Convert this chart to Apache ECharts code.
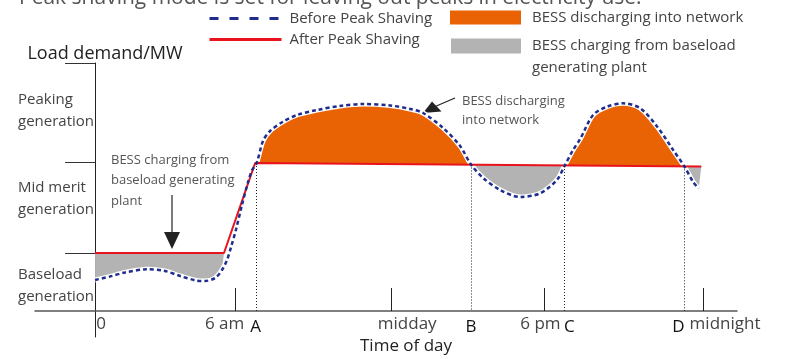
<!DOCTYPE html>
<html>
<head>
<meta charset="utf-8">
<script src="https://cdn.jsdelivr.net/npm/echarts@6/dist/echarts.min.js"></script>
<style>
  html, body { margin: 0; padding: 0; background: #fff; }
  #chart { width: 786px; height: 359px; }
</style>
</head>
<body>
<div id="chart"></div>
<script>
// load before peak shaving (time in hours, load in relative MW units)
const beforeTime = [0, 0.59, 1.18, 2.05, 2.76, 3.36, 3.99, 4.34, 4.74, 5.01, 5.21, 5.37, 5.57, 5.8, 6.04, 6.2,
  6.38, 6.63, 6.91, 7.42, 7.97, 8.76, 9.67, 10.58, 11.65, 12.44, 12.95, 13.74, 14.41,
  14.84, 15.32, 15.99, 16.78, 17.57, 18.23,
  18.53, 18.87, 19.15, 19.66, 20.21, 20.84, 21.52, 22.19, 22.82,
  23.26, 23.61, 23.83];
const beforeLoad = [3.1, 3.45, 3.85, 4.17, 4.0, 3.5, 3.05, 3.0, 3.3, 4.1, 5.1, 6.4, 8.2, 10.6, 12.9, 14.1,
  14.8, 17.0, 18.0, 18.93, 19.6, 20.1, 20.5, 20.7, 20.55, 20.2, 19.8, 18.3, 16.5,
  14.65, 13.3, 12.1, 11.4, 11.77, 13.1,
  14.5, 16.1, 17.2, 19.6, 20.43, 20.77, 20.27, 18.43, 16.1,
  14.47, 12.9, 12.25];

// load after peak shaving
const afterTime = [0, 5.09, 6.32, 23.93];
const afterLoad = [5.8, 5.8, 14.8, 14.45];

// crossing points A..D
const eventLabels = ['A', 'B', 'C', 'D'];
const eventTimes = [6.38, 14.84, 18.53, 23.26];

// time of day ticks
const timeLabels = ['0', '6 am', 'midday', '6 pm', 'midnight'];
const timeTicks = [0, 5.55, 11.69, 17.74, 24.0];

// generation levels on the load axis
const levelLabels = ['Baseload\ngeneration', 'Mid merit\ngeneration', 'Peaking\ngeneration'];
const levelLabelAt = [2.5, 11.2, 20.0];
const levelBounds = [5.8, 14.9, 24.8];

// shaded spans
const dischargeSpans = [[eventTimes[0], eventTimes[1]], [eventTimes[2], eventTimes[3]]];
const chargeSpans = [[0, afterTime[1]], [eventTimes[1], eventTimes[2]], [eventTimes[3], afterTime[3]]];

// label nudges in px (layout only)
const labelShift = { '0': 6, '6 am': -11, 'midday': 16, '6 pm': -4, 'midnight': 22, 'A': -1, 'B': 0, 'C': 5, 'D': -6 };

const FONT = 'Open Sans';
const NAVY = '#1f2d8e';
const RED = '#e8131c';
const ORANGE = '#e96305';
const GREY = '#b3b3b3';

const xLabelValues = timeTicks.concat(eventTimes);
const xLabelTexts = timeLabels.concat(eventLabels);
const xRich = {};
xLabelTexts.forEach((txt, i) => {
  const s = labelShift[txt] || 0;
  const isEvent = i >= timeLabels.length;
  xRich['k' + i] = {
    fontFamily: FONT,
    fontSize: 17,
    color: isEvent ? '#111' : '#444',
    padding: [isEvent ? 3 : 0, s < 0 ? -2 * s : 0, 0, s > 0 ? 2 * s : 0]
  };
});

function spanPolygon(lo, hi, api) {
  const pts = [];
  for (let i = 0; i < beforeTime.length; i++) {
    if (beforeTime[i] >= lo - 1e-9 && beforeTime[i] <= hi + 1e-9) pts.push(api.coord([beforeTime[i], beforeLoad[i]]));
  }
  for (let i = afterTime.length - 1; i >= 0; i--) {
    if (afterTime[i] >= lo - 1e-9 && afterTime[i] <= hi + 1e-9) pts.push(api.coord([afterTime[i], afterLoad[i]]));
  }
  return pts;
}

function fillSeries(name, spans, color) {
  return {
    name: name,
    type: 'custom',
    z: 1,
    silent: true,
    itemStyle: { color: color },
    data: spans,
    renderItem: function (params, api) {
      return {
        type: 'polygon',
        shape: { points: spanPolygon(api.value(0), api.value(1), api) },
        style: { fill: color }
      };
    }
  };
}

const chart = echarts.init(document.getElementById('chart'), null, { renderer: 'canvas' });

const legendText = { fontFamily: FONT, fontSize: 15, color: '#444' };

const option = {
  animation: false,
  textStyle: { fontFamily: FONT },
  grid: { left: 35, right: 49, top: 63, bottom: 22, outerBoundsMode: 'none', containLabel: false },
  legend: [
    {
      data: [
        { name: 'Before Peak Shaving', lineStyle: { type: [9, 11], width: 3 }, itemStyle: { opacity: 0 } },
        { name: 'After Peak Shaving', lineStyle: { width: 3 }, itemStyle: { opacity: 0 } }
      ],
      orient: 'vertical', left: 208, top: 11, padding: 0, itemWidth: 72, itemHeight: 14, itemGap: 6,
      selectedMode: false,
      textStyle: Object.assign({ padding: [0, 0, 0, 3] }, legendText)
    },
    {
      data: [{ name: 'BESS discharging into network', icon: 'rect' }],
      left: 450, top: 10, padding: 0, itemWidth: 71, itemHeight: 14,
      selectedMode: false,
      textStyle: Object.assign({ padding: [0, 0, 0, 6] }, legendText)
    },
    {
      data: [{ name: 'BESS charging from baseload generating plant', icon: 'path://M0 0L70 0L70 15L0 15Z M35 37L35.01 37L35 37.01Z' }],
      left: 451, top: 35, padding: 0, itemWidth: 70, itemHeight: 37,
      selectedMode: false,
      formatter: () => 'BESS charging from baseload\ngenerating plant',
      textStyle: Object.assign({ lineHeight: 22, padding: [0, 0, 0, 6] }, legendText)
    }
  ],
  xAxis: {
    type: 'value',
    min: -2.37,
    max: 25.34,
    axisLine: { onZero: true, lineStyle: { color: '#555', width: 1.5 } },
    axisTick: { show: true, inside: true, length: 23, customValues: timeTicks.slice(1), lineStyle: { color: '#222', width: 1 } },
    axisLabel: {
      margin: -21,
      customValues: xLabelValues,
      formatter: function (v) {
        const i = xLabelValues.indexOf(v);
        return i < 0 ? '' : '{k' + i + '|' + xLabelTexts[i] + '}';
      },
      rich: xRich
    },
    splitLine: { show: false }
  },
  yAxis: {
    type: 'value',
    min: -2.6,
    max: 24.8,
    name: 'Load demand/MW',
    nameLocation: 'end',
    nameGap: 0,
    nameTextStyle: { fontFamily: FONT, fontSize: 18, color: '#222', align: 'center', padding: [0, 0, 0, 20] },
    axisLine: { show: true, onZero: true, lineStyle: { color: '#222', width: 1 } },
    axisTick: { show: true, length: 30, customValues: levelBounds, lineStyle: { color: '#333', width: 1 } },
    axisLabel: {
      margin: 17,
      align: 'left',
      customValues: levelLabelAt,
      formatter: function (v) {
        const i = levelLabelAt.indexOf(v);
        return i < 0 ? '' : levelLabels[i];
      },
      fontFamily: FONT, fontSize: 15, color: '#444', lineHeight: 22
    },
    splitLine: { show: false }
  },
  series: [
    fillSeries('BESS discharging into network', dischargeSpans, ORANGE),
    fillSeries('BESS charging from baseload generating plant', chargeSpans, GREY),
    {
      name: '_halo',
      type: 'line',
      z: 2,
      silent: true,
      symbol: 'none',
      smooth: 0.3,
      lineStyle: { color: '#fff', width: 5 },
      data: beforeTime.map((t, i) => [t, beforeLoad[i]])
    },
    {
      name: 'After Peak Shaving',
      type: 'line',
      z: 3,
      symbol: 'none',
      lineStyle: { color: RED, width: 2 },
      itemStyle: { color: RED },
      data: afterTime.map((t, i) => [t, afterLoad[i]]),
      markLine: {
        silent: true,
        symbol: 'none',
        label: { show: false },
        lineStyle: { type: [1, 2], color: '#222', width: 1 },
        data: eventTimes.map((t) => {
          const v = beforeLoad[beforeTime.indexOf(t)];
          return [{ coord: [t, v] }, { coord: [t, 0] }];
        })
      }
    },
    {
      name: 'Before Peak Shaving',
      type: 'line',
      z: 4,
      symbol: 'none',
      smooth: 0.3,
      lineStyle: { color: NAVY, width: 2.5, type: [4, 3] },
      itemStyle: { color: NAVY },
      data: beforeTime.map((t, i) => [t, beforeLoad[i]])
    }
  ],
  graphic: [
    {
      type: 'text', left: 19, top: -12, silent: true,
      style: { text: 'Peak shaving mode is set for leaving out peaks in electricity use.', font: '21px "Open Sans"', fill: '#555' }
    },
    {
      type: 'text', left: 360, top: 338, silent: true,
      style: { text: 'Time of day', font: '17px "Open Sans"', fill: '#222' }
    },
    {
      type: 'text', left: 111, top: 150, silent: true,
      style: { text: 'BESS charging from\nbaseload generating\nplant', font: '13px "Open Sans"', fill: '#555', lineHeight: 20.5 }
    },
    { type: 'line', silent: true, shape: { x1: 172, y1: 195, x2: 172, y2: 234 }, style: { stroke: '#222', lineWidth: 1.2 } },
    { type: 'polygon', silent: true, shape: { points: [[164, 232], [180, 232], [172, 249]] }, style: { fill: '#222' } },
    {
      type: 'text', left: 462, top: 92, silent: true,
      style: { text: 'BESS discharging\ninto network', font: '13px "Open Sans"', fill: '#555', lineHeight: 19 }
    },
    { type: 'line', silent: true, shape: { x1: 455, y1: 98, x2: 434, y2: 107 }, style: { stroke: '#222', lineWidth: 1.2 } },
    { type: 'polygon', silent: true, shape: { points: [[423, 113], [432, 101.5], [441.5, 111.5]] }, style: { fill: '#222' } }
  ]
};

chart.setOption(option);
</script>
</body>
</html>
